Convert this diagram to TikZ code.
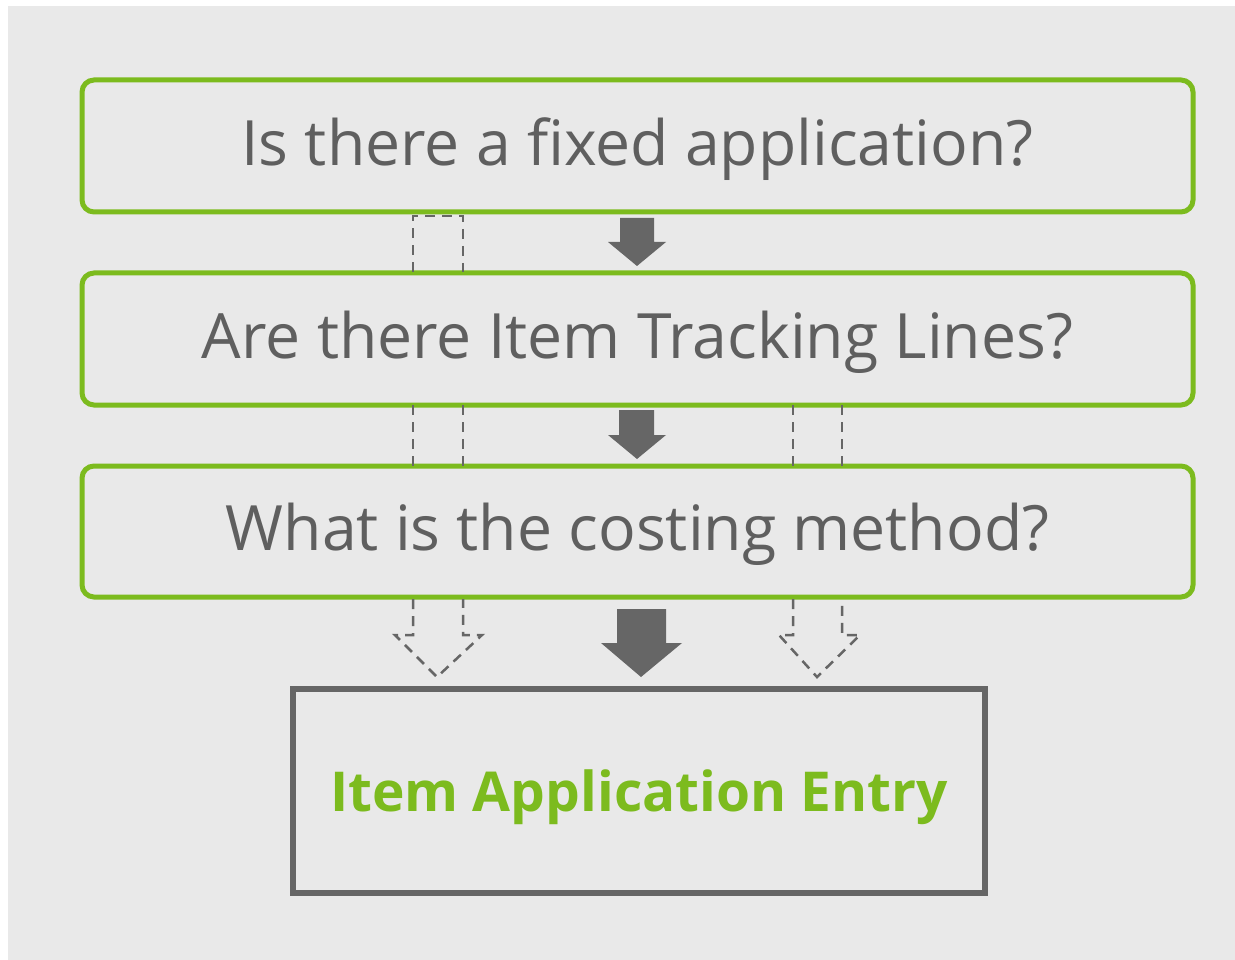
\documentclass[tikz,border=0pt]{standalone}
\usepackage{fontspec}
\setmainfont{Open Sans}
\definecolor{bggray}{RGB}{233,233,233}
\definecolor{boxgreen}{RGB}{124,187,30}
\definecolor{txtgray}{RGB}{95,95,95}
\definecolor{arrgray}{RGB}{102,102,102}
\tikzset{
  qbox/.style={draw=boxgreen, line width=5pt, rounded corners=12pt, fill=bggray},
  qtext/.style={text=txtgray, font=\fontsize{62.5}{70}\selectfont, inner sep=0pt, anchor=center},
  ebox/.style={draw=arrgray, line width=6pt, fill=bggray},
  etext/.style={text=boxgreen, font=\bfseries\fontsize{55}{64}\selectfont, inner sep=0pt, anchor=center},
  solidarr/.style={fill=arrgray, draw=none},
  dashline/.style={draw=arrgray, line width=2.5pt, dash pattern=on 10pt off 7pt}
}
\begin{document}
\begin{tikzpicture}[x=1pt,y=-1pt]
\useasboundingbox (0,0) rectangle (1235,960);
\fill[white] (0,0) rectangle (1235,960);
\fill[bggray] (8,6) rectangle (1235,960);

% boxes
\draw[qbox] (82,80) rectangle (1193,212);
\node[qtext] (q1) at (637.5,149) {Is there a fixed application?};
\draw[qbox] (82,273) rectangle (1193,405);
\node[qtext] (q2) at (637.5,342) {Are there Item Tracking Lines?};
\draw[qbox] (82,466) rectangle (1193,597);
\node[qtext] (q3) at (637.5,534) {What is the costing method?};
\draw[ebox] (293,689) rectangle (985,893);
\node[etext] (e) at (639,797) {Item Application Entry};

% solid arrows
\fill[solidarr] (620,218) -- (654,218) -- (654,242) -- (666,242) -- (637,266) -- (608,242) -- (620,242) -- cycle;
\fill[solidarr] (619,410) -- (654,410) -- (654,435) -- (666,435) -- (637,459) -- (608,435) -- (619,435) -- cycle;
\fill[solidarr] (617,609) -- (666,609) -- (666,643) -- (682,643) -- (641,677) -- (601,643) -- (617,643) -- cycle;

% dashed paths
\draw[dashline] (413,272) -- (413,216) -- (463,216) -- (463,272);
\draw[dashline] (413,405) -- (413,466);
\draw[dashline] (463,405) -- (463,466);
\draw[dashline] (793,405) -- (793,466);
\draw[dashline] (842,405) -- (842,466);
\draw[dashline] (413,599) -- (413,635) -- (395,635) -- (437,677) -- (482,635) -- (463,635) -- (463,599);
\draw[dashline] (793,599) -- (793,635) -- (779,635) -- (817,677) -- (860,635) -- (842,635) -- (842,599);
\end{tikzpicture}
\end{document}
